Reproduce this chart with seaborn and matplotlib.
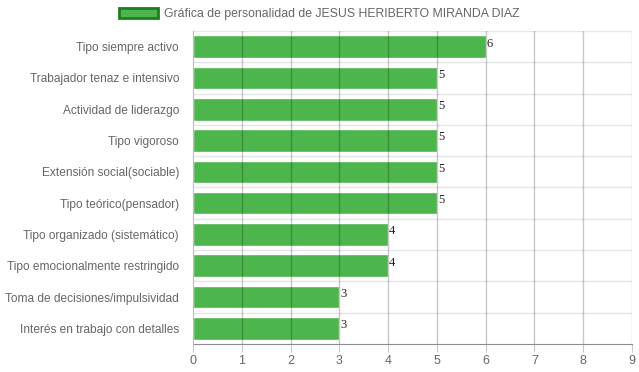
import matplotlib
matplotlib.use('Agg')
import matplotlib.pyplot as plt
import pandas as pd
import seaborn as sns
from matplotlib.patches import Patch

categories = [
    "Tipo siempre activo",
    "Trabajador tenaz e intensivo",
    "Actividad de liderazgo",
    "Tipo vigoroso",
    "Extensión social(sociable)",
    "Tipo teórico(pensador)",
    "Tipo organizado (sistemático)",
    "Tipo emocionalmente restringido",
    "Toma de decisiones/impulsividad",
    "Interés en trabajo con detalles",
]
values = [6, 5, 5, 5, 5, 5, 4, 4, 3, 3]
legend_label = "Gráfica de personalidad de JESUS HERIBERTO MIRANDA DIAZ"

sns.set_style("white")
plt.rcParams['font.family'] = ['Liberation Sans', 'DejaVu Sans']

df = pd.DataFrame({"cat": categories, "val": values})

fig = plt.figure(figsize=(6.39, 3.72), dpi=100)
ax = fig.add_axes([193 / 639, 1 - 344 / 372, (632 - 193) / 639, (344 - 31) / 372])

bar_color = "#4cb54c"
sns.barplot(data=df, y="cat", x="val", orient="h", color=bar_color,
            saturation=1, width=0.72, ax=ax, zorder=2)

ax.set_xlim(0, 9)
ax.set_ylim(len(categories) - 0.5, -0.5)
ax.set_xticks(range(10))
ax.set_xlabel("")
ax.set_ylabel("")

# vertical grid on top of bars (semi-transparent)
for x in range(1, 10):
    ax.axvline(x, color="black", alpha=0.22, lw=1, zorder=3)
# horizontal category separators
for i in range(len(categories)):
    ax.axhline(i - 0.5, color="#e6e6e6", lw=1, zorder=1)

for s in ["top", "right"]:
    ax.spines[s].set_visible(False)
ax.spines["left"].set_color("#bdbdbd")
ax.spines["bottom"].set_color("#8c8c8c")
ax.spines["left"].set_zorder(4)

ax.tick_params(axis="x", length=6, color="#c8c8c8", labelsize=9, labelcolor="#666666", pad=2)
ax.tick_params(axis="y", length=0, labelsize=8.6, labelcolor="#666666", pad=10)
ax.tick_params(axis="x", bottom=True)

for i, v in enumerate(values):
    ax.text(v + 0.02, i - 0.1, str(v), family="Liberation Serif", fontsize=9,
            color="#222222", va="center", ha="left", zorder=5)

handle = Patch(facecolor=bar_color, edgecolor="#1e7d1e", linewidth=2)
fig.legend(handles=[handle], labels=[legend_label], loc="center",
           bbox_to_anchor=(0.5, 1 - 14 / 372), frameon=False, fontsize=8.8,
           labelcolor="#666666", handlelength=3.2, handleheight=0.9,
           handletextpad=0.5)

fig.savefig("out.png", dpi=100)
